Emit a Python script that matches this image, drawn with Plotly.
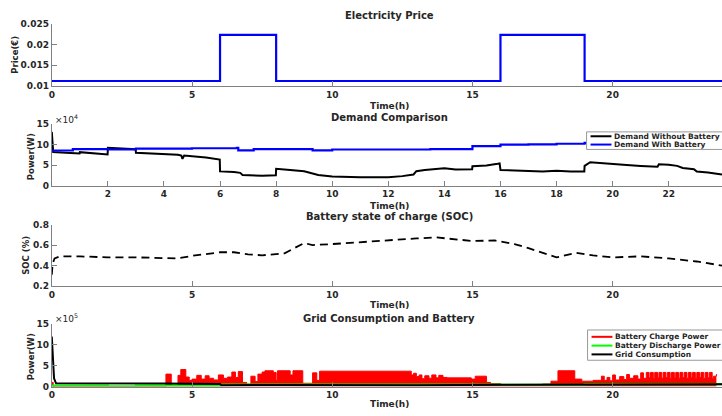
import plotly.graph_objects as go

# ---------------- data ----------------
price_t = [0, 6, 8, 16, 19, 23.99]
price_v = [0.0112, 0.0223, 0.0112, 0.0223, 0.0112, 0.0112]

# Demand without battery (W)
dwo_t = [0, 0.02, 0.05, 0.5, 0.99, 1.0, 1.5, 1.99, 2.0, 2.5, 2.99, 3.0, 3.5, 4.0, 4.5, 4.62, 4.66,
         4.72, 5.0, 5.5, 5.99, 6.0, 6.5, 6.72, 6.8, 7.5, 7.99, 8.0, 8.5, 9.0, 9.5, 10.0, 11.0, 12.0,
         12.5, 12.9, 13.0, 13.3, 13.8, 14.0, 14.4, 14.99, 15.0, 15.5, 15.9, 15.97, 16.0, 16.5, 17.0,
         17.5, 18.0, 18.5, 18.99, 19.0, 19.2, 19.5, 20.0, 20.5, 21.0, 21.6, 21.65, 22.0, 22.3, 22.5,
         22.9, 23.0, 23.4, 23.9]
dwo_v = [131000, 90000, 82000, 80000, 78500, 81500, 79000, 76000, 92000, 89500, 88500, 80000, 78500,
         76500, 75000, 73000, 65000, 73000, 72000, 68500, 63500, 34500, 33000, 31000, 26000, 24000,
         25000, 41000, 38000, 35000, 26000, 22000, 20000, 20500, 23000, 27000, 35000, 38000, 41000,
         42000, 39000, 40000, 47000, 49000, 53000, 54000, 38000, 37000, 36000, 34000, 36000, 34000,
         34000, 48000, 57000, 55000, 52000, 50000, 48000, 46000, 52000, 51000, 48000, 43000, 40000,
         34000, 32000, 27000]

# Demand with battery (W)
dwb_t = [0, 0.75, 2.0, 3.0, 5.0, 6.6, 6.65, 7.2, 9.3, 10.0, 13.5, 15.0, 16.0, 17.0, 18.0, 19.0,
         20.0, 21.7, 23.3, 23.9]
dwb_v = [85500, 89000, 88000, 90000, 91000, 92000, 86000, 89000, 86000, 88000, 89000, 96000,
         100000, 100500, 102000, 104000, 106000, 108000, 110000, 110000]

# Battery state of charge
soc_t = [0, 0.03, 0.1, 0.3, 1.0, 2.0, 3.0, 4.0, 4.5, 5.0, 6.0, 6.5, 7.0, 7.5, 8.3, 9.0, 9.3, 10.0,
         11.0, 12.0, 13.0, 13.7, 14.5, 15.0, 15.8, 16.5, 17.0, 18.0, 18.7, 19.3, 20.0, 21.0, 22.0,
         23.0, 23.9]
soc_v = [0.31, 0.42, 0.47, 0.49, 0.49, 0.48, 0.48, 0.47, 0.47, 0.495, 0.53, 0.53, 0.51, 0.50,
         0.52, 0.62, 0.60, 0.61, 0.63, 0.65, 0.665, 0.675, 0.65, 0.64, 0.645, 0.61, 0.57, 0.48,
         0.525, 0.50, 0.48, 0.49, 0.47, 0.44, 0.40]

# Battery charge power (W)
chg_t = [0, 0.05, 4.07, 4.26, 4.5, 4.6, 4.78, 4.9, 5.0, 5.17, 5.33, 5.47, 5.61, 5.77, 5.94, 6.12,
         6.27, 6.42, 6.55, 6.65, 6.8, 6.95, 7.1, 7.25, 7.35, 7.5, 7.6, 7.9, 8.0, 8.05, 8.5, 8.6,
         8.95, 9.3, 9.45, 9.55, 12.82, 12.9, 13.0, 13.1, 13.2, 13.3, 13.45, 13.55, 13.7, 13.8,
         13.95, 14.1, 14.96, 15.1, 15.5, 15.65, 16.0, 17.5, 17.8, 18.05, 18.65, 18.9, 19.3, 19.6,
         19.7, 19.8, 19.9, 20.0, 20.1, 20.25, 20.4, 20.5, 20.6, 20.75, 20.9, 21.0, 21.1, 21.2,
         21.3, 21.35, 21.45, 21.5, 21.6, 21.65, 21.75, 21.8, 21.9, 21.95, 22.05, 22.1, 22.2,
         22.25, 22.35, 22.4, 22.5, 22.55, 22.65, 22.7, 22.8, 22.85, 22.95, 23.0, 23.1, 23.15,
         23.25, 23.3, 23.4, 23.45, 23.55, 23.6, 23.7, 23.75, 23.9]
chg_v = [100000, 0, 300000, 30000, 270000, 410000, 230000, 150000, 180000, 270000, 180000,
         260000, 200000, 160000, 280000, 200000, 230000, 350000, 220000, 360000, 100000, 60000,
         250000, 120000, 300000, 350000, 380000, 340000, 150000, 380000, 280000, 380000, 80000,
         330000, 150000, 370000, 280000, 320000, 240000, 280000, 190000, 260000, 200000, 280000,
         210000, 270000, 220000, 210000, 180000, 250000, 100000, 70000, 30000, 60000, 130000,
         380000, 180000, 130000, 150000, 250000, 150000, 220000, 140000, 280000, 160000, 240000,
         170000, 290000, 200000, 260000, 180000, 330000, 200000, 340000, 220000, 340000, 200000,
         340000, 210000, 340000, 200000, 340000, 220000, 340000, 200000, 340000, 210000, 340000,
         200000, 340000, 220000, 340000, 200000, 340000, 210000, 340000, 200000, 340000, 220000,
         340000, 200000, 340000, 210000, 340000, 200000, 250000, 300000]

# Battery discharge power (W)
dis_t = [0, 2.0, 3.0, 6.0, 16.0, 19.0, 23.9]
dis_v = [25000, 5000, 25000, 50000, 45000, 60000, 60000]

# Grid consumption (W)
grid_t = [0, 0.08, 0.15, 2.0, 3.0, 4.0, 6.0, 6.05, 8.0, 10.0, 13.0, 16.0, 19.0, 21.0, 23.9]
grid_v = [1200000, 200000, 80000, 85000, 80000, 75000, 65000, 35000, 40000, 35000, 35000, 47000,
          55000, 55000, 55000]

# ---------------- layout helpers ----------------
W, H = 722, 416
def py(p):
    return 1 - p / H

X0 = 49 / W
XR = [0, 23.9]
FONT = "DejaVu Sans"
AX = "#808080"
TXT = "#262626"

panels = [(19, 83), (122, 185), (225, 288), (327, 391)]

fig = go.Figure()

fig.add_trace(go.Scatter(x=price_t, y=price_v, mode="lines", line=dict(color="#0000ff", width=2.2, shape="hv"),
                         xaxis="x", yaxis="y", showlegend=False))
fig.add_trace(go.Scatter(x=dwo_t, y=dwo_v, mode="lines", line=dict(color="black", width=2),
                         xaxis="x2", yaxis="y2", showlegend=False))
fig.add_trace(go.Scatter(x=dwb_t, y=dwb_v, mode="lines", line=dict(color="#0000ff", width=2.2, shape="hv"),
                         xaxis="x2", yaxis="y2", showlegend=False))
fig.add_trace(go.Scatter(x=soc_t, y=soc_v, mode="lines", line=dict(color="black", width=1.8, dash="8px,5px"),
                         xaxis="x3", yaxis="y3", showlegend=False))
fig.add_trace(go.Scatter(x=chg_t, y=chg_v, mode="lines", line=dict(color="#ff0000", width=1, shape="hv"),
                         fill="tozeroy", fillcolor="#ff0000", xaxis="x4", yaxis="y4", showlegend=False))
fig.add_trace(go.Scatter(x=dis_t, y=dis_v, mode="lines", line=dict(color="#00ff00", width=2.2, shape="hv"),
                         xaxis="x4", yaxis="y4", showlegend=False))
fig.add_trace(go.Scatter(x=grid_t, y=grid_v, mode="lines", line=dict(color="black", width=2),
                         xaxis="x4", yaxis="y4", showlegend=False))

def xaxis(i, tickvals):
    return dict(domain=[X0, 1], range=XR, anchor="y" if i == 0 else f"y{i+1}",
                tickvals=tickvals, ticktext=[str(v) for v in tickvals], ticks="inside", ticklen=5,
                tickcolor=AX, showline=True, linecolor=AX, linewidth=1, showgrid=False, zeroline=False,
                tickfont=dict(size=9, color=TXT, family=FONT, weight="bold"))

def yaxis(i, rng, tickvals, ticktext):
    top, bot = panels[i]
    return dict(domain=[py(bot), py(top)], range=rng, anchor="x" if i == 0 else f"x{i+1}",
                tickvals=tickvals, ticktext=ticktext, ticks="inside", ticklen=5, tickcolor=AX,
                showline=True, linecolor=AX, linewidth=1, showgrid=False, zeroline=False,
                tickfont=dict(size=9, color=TXT, family=FONT, weight="bold"))

major5 = [0, 5, 10, 15, 20]
fig.update_layout(
    width=W, height=H, margin=dict(l=0, r=0, t=0, b=0),
    paper_bgcolor="white", plot_bgcolor="white",
    font=dict(family=FONT, color=TXT),
    xaxis=xaxis(0, major5),
    yaxis=yaxis(0, [0.01, 0.025], [0.01, 0.015, 0.02, 0.025], ["0.01", "0.015", "0.02", "0.025"]),
    xaxis2=xaxis(1, [2, 4, 6, 8, 10, 12, 14, 16, 18, 20, 22]),
    yaxis2=yaxis(1, [0, 150000], [0, 50000, 100000, 150000], ["0", "5", "10", "15"]),
    xaxis3=xaxis(2, major5),
    yaxis3=yaxis(2, [0.2, 0.8], [0.2, 0.4, 0.6, 0.8], ["0.2", "0.4", "0.6", "0.8"]),
    xaxis4=xaxis(3, major5),
    yaxis4=yaxis(3, [0, 1500000], [0, 500000, 1000000, 1500000], ["0", "5", "10", "15"]),
)

ann = []
def text(x, y, s, size, angle=0, bold=True, xanchor="center"):
    ann.append(dict(x=x / W, y=py(y), xref="paper", yref="paper", text=s, showarrow=False,
                    textangle=angle, xanchor=xanchor, yanchor="middle",
                    font=dict(size=size, family=FONT, color=TXT,
                              weight="bold" if bold else "normal")))

titles = ["Electricity Price", "Demand Comparison", "Battery state of charge (SOC)", "Grid Consumption and Battery"]
title_y = [11, 115, 217, 321]
xt_y = [103, 206, 307, 409]
for t, ty, xy in zip(titles, title_y, xt_y):
    text(388, ty, t, 10)
    text(388, xy, "Time(h)", 9)

text(12, 51, "Price(€)", 8.5, angle=-90)
text(28, 155, "Power(W)", 8.5, angle=-90)
text(23, 256, "SOC (%)", 8.5, angle=-90)
text(28, 360, "Power(W)", 8.5, angle=-90)
text(50, 117, "×10<sup>4</sup>", 9, bold=False, xanchor="left")
text(50, 321, "×10<sup>5</sup>", 9, bold=False, xanchor="left")

shapes = []
def legend(x0, y0, y1, rows):
    shapes.append(dict(type="rect", xref="paper", yref="paper", x0=x0 / W, x1=(W + 2) / W,
                       y0=py(y1), y1=py(y0), line=dict(color="#999999", width=1), fillcolor="white",
                       layer="above"))
    for ry, label, col in rows:
        shapes.append(dict(type="line", xref="paper", yref="paper", x0=(x0 + 4) / W, x1=(x0 + 25) / W,
                           y0=py(ry), y1=py(ry), line=dict(color=col, width=2), layer="above"))
        text(x0 + 26, ry, label, 7.5, xanchor="left")

legend(586, 130, 148, [(134.5, "Demand Without Battery", "black"), (143, "Demand With Battery", "#0000ff")])
legend(587, 333, 364, [(340, "Battery Charge Power", "#ff0000"), (349, "Battery Discharge Power", "#00ff00"),
                       (358, "Grid Consumption", "black")])

fig.update_layout(annotations=ann, shapes=shapes)
fig.write_html("out.html", config={"displayModeBar": False},
               post_script="document.body.style.margin='0';document.body.style.overflow='hidden';")
